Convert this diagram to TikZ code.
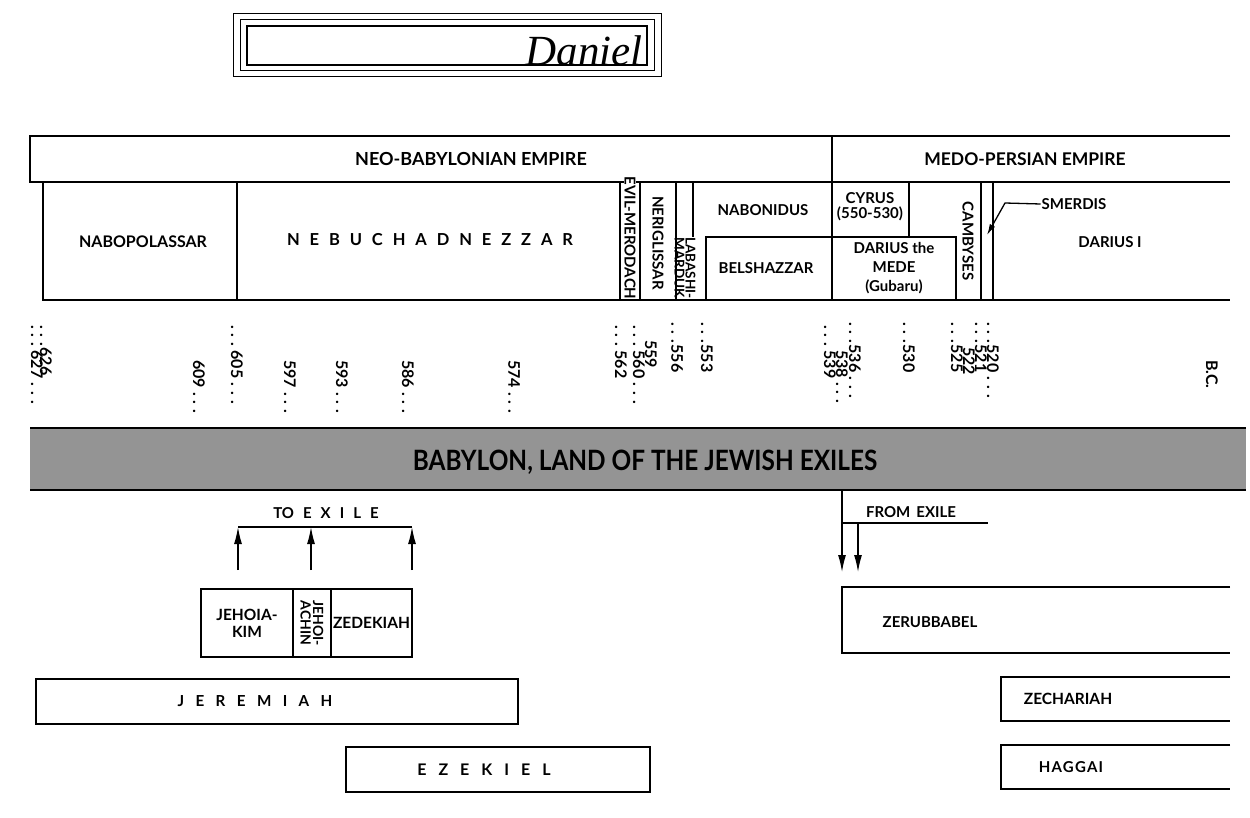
\documentclass[tikz,border=0pt]{standalone}
\usepackage{fontspec}
\newfontfamily\chartfont{Lato}
\newfontfamily\trackfont[LetterSpace=60]{Lato}
\newfontfamily\widetrack[LetterSpace=75]{Lato}
\newfontfamily\loosefont[LetterSpace=8]{Lato}
\newfontfamily\titlefont{Liberation Serif}
\usetikzlibrary{arrows.meta,positioning}

\newcommand\yd{.\hspace{5pt}.\hspace{5pt}.}

\tikzset{
  rule/.style={line width=1.3pt},
  box/.style={draw, line width=1.3pt, inner sep=0pt},
  lbl/.style={font=\chartfont\bfseries\fontsize{15}{16.5}\selectfont, inner sep=0.75pt, align=center},
  trk/.style={font=\widetrack\bfseries\fontsize{16}{18}\selectfont, inner sep=0.75pt},
  yr/.style={font=\chartfont\bfseries\fontsize{16}{16}\selectfont, rotate=-90, anchor=west, inner sep=0pt},
  exile/.style={line width=1.3pt, -{Latex[length=17pt,width=8pt]}},
}

\begin{document}
\begin{tikzpicture}[x=1pt,y=-1pt]
\useasboundingbox (0,0) rectangle (1250,818);

% title plate
\draw[line width=1pt] (233,14) rectangle (661,77);
\draw[line width=1pt] (240,20) rectangle (654,71);
\draw[line width=2pt] (247,26) rectangle (647,65);
\node[anchor=base, inner sep=0pt, font=\titlefont\itshape\fontsize{43}{43}\selectfont] (title) at (584,66) {Daniel};

% empires
\draw[rule] (1230,136) -- (30,136) -- (30,182) -- (1230,182);
\draw[line width=2.6pt] (832,136) -- (832,300);
\node[lbl, font=\chartfont\bfseries\fontsize{18}{20}\selectfont] (neo) at (471,159) {NEO-BABYLONIAN EMPIRE};
\node[lbl, font=\chartfont\bfseries\fontsize{17.5}{20}\selectfont] (medo) at (1025,159) {MEDO-PERSIAN EMPIRE};

% kings
\draw[rule] (43,182) -- (43,300) -- (1230,300);
\draw[rule] (237,182) -- (237,300);
\draw[rule] (620,182) -- (620,300);
\draw[rule] (640,182) -- (640,300);
\draw[rule] (676,182) -- (676,300);
\draw[rule] (693,182) -- (693,237);
\draw[rule] (706,300) -- (706,237) -- (956,237) -- (956,300);
\draw[rule] (909,182) -- (909,237);
\draw[rule] (981,182) -- (981,300);
\draw[rule] (993,182) -- (993,300);

\node[lbl, font=\chartfont\bfseries\fontsize{16}{17}\selectfont] (nabopolassar) at (143,242) {NABOPOLASSAR};
\node[lbl, font=\trackfont\bfseries\fontsize{16.5}{18}\selectfont] (nebuchadnezzar) at (430,240) {NEBUCHADNEZZAR};
\node[lbl, rotate=-90, fill=white, inner sep=0pt] (evilmerodach) at (630,238) {EVIL-MERODACH};
\node[lbl, rotate=-90] (neriglissar) at (658,243) {NERIGLISSAR};
\node[lbl, rotate=-90, font=\chartfont\bfseries\fontsize{13.5}{11}\selectfont] (labashi) at (685,268) {LABASHI-\\MARDUK};
\node[lbl] (nabonidus) at (763,210) {NABONIDUS};
\node[lbl] (belshazzar) at (766,268) {BELSHAZZAR};
\node[lbl, font=\chartfont\bfseries\fontsize{15}{15}\selectfont] (cyrus) at (870,207) {CYRUS\\(550-530)};
\node[lbl, font=\chartfont\bfseries\fontsize{15}{19}\selectfont] (dariusmede) at (894,268) {DARIUS the\\MEDE\\(Gubaru)};
\node[lbl, rotate=-90] (cambyses) at (968,241) {CAMBYSES};
\node[lbl] (smerdis) at (1074,204) {SMERDIS};
\node[lbl] (dariusi) at (1110,242) {DARIUS I};
\coordinate (smbend) at (1005,203);
\coordinate (smtip) at (987,235);
\draw[rule, -{Latex[length=11pt,width=6pt]}] (smerdis.west) -- (smbend) -- (smtip);

% years
\node[yr] (y627) at (37,325) {\yd\hspace{4pt}627\hspace{4pt}\yd};
\node[yr] (y626) at (46,325) {\yd\hspace{1pt}626};
\node[yr] (y609) at (199,360) {609\hspace{4pt}\yd};
\node[yr] (y605) at (237,325) {\yd\hspace{4pt}605\hspace{4pt}\yd};
\node[yr] (y597) at (290,360) {597\hspace{4pt}\yd};
\node[yr] (y593) at (342,360) {593\hspace{4pt}\yd};
\node[yr] (y586) at (408,360) {586\hspace{4pt}\yd};
\node[yr] (y574) at (514,360) {574\hspace{4pt}\yd};
\node[yr] (y562) at (621,325) {\yd\hspace{4pt}562};
\node[yr] (y560) at (639,325) {\yd\hspace{4pt}560\hspace{4pt}\yd};
\node[yr] (y559) at (651,340) {559};
\node[yr] (y556) at (677,322) {\yd\hspace{1pt}556};
\node[yr] (y553) at (707,322) {\yd\hspace{1pt}553};
\node[yr] (y539) at (830,325) {\yd\hspace{4pt}539};
\node[yr] (y538) at (842,350) {538\hspace{4pt}\yd};
\node[yr] (y536) at (855,322) {\yd\hspace{1pt}536\hspace{4pt}\yd};
\node[yr] (y530) at (909,322) {\yd\hspace{1pt}530};
\node[yr] (y525) at (957,322) {\yd\hspace{1pt}525};
\node[yr] (y522) at (969,347) {522};
\node[yr] (y521) at (981,322) {\yd\hspace{1pt}521};
\node[yr] (y520) at (993,322) {\yd\hspace{1pt}520\hspace{4pt}\yd};
\node[yr] (bc) at (1212,360) {B.C.};

% land of exile
\fill[black!42] (30,428) rectangle (1246,490);
\draw[line width=1.5pt] (30,428) -- (1246,428);
\draw[line width=1.5pt] (30,490) -- (1246,490);
\node[font=\chartfont\bfseries\fontsize{28}{30}\selectfont, inner sep=0pt] (babylon) at (645,462) {\scalebox{0.87}[1]{BABYLON, LAND OF THE JEWISH EXILES}};

% to exile
\node[lbl] (toexile) at (326,513) {TO\hspace{9pt}{\trackfont EXILE}};
\coordinate (tel) at (238,527);
\coordinate (tem) at (311,527);
\coordinate (ter) at (412,527);
\draw[rule] (tel) -- (ter);
\coordinate (jkup) at (238,570);
\coordinate (jcup) at (311,570);
\coordinate (zdup) at (412,570);
\draw[exile] (jkup) -- (tel);
\draw[exile] (jcup) -- (tem);
\draw[exile] (zdup) -- (ter);

\node[box, lbl, font=\chartfont\bfseries\fontsize{15.5}{17}\selectfont, minimum width=92pt, minimum height=68pt] (jehoiakim) at (247,623) {JEHOIA-\\KIM};
\node[box, lbl, rotate=-90, minimum width=68pt, minimum height=38pt, font=\chartfont\bfseries\fontsize{14}{12.5}\selectfont] (jehoiachin) at (312,623) {JEHOI-\\ACHIN};
\node[box, lbl, font=\chartfont\bfseries\fontsize{15.5}{17}\selectfont, minimum width=81pt, minimum height=68pt] (zedekiah) at (371.5,623) {ZEDEKIAH};

% from exile
\coordinate (fetop) at (842,490);
\coordinate (fel) at (842,523);
\coordinate (fem) at (858,523);
\coordinate (fer) at (988,523);
\coordinate (zbl) at (842,572);
\coordinate (zbm) at (858,572);
\draw[rule] (fetop) -- (fel) -- (fer);
\draw[exile] (fel) -- (zbl);
\draw[exile] (fem) -- (zbm);
\node[lbl] (fromexile) at (911,512) {FROM\hspace{6pt}EXILE};

\draw[rule] (1230,587) -- (842,587) -- (842,653) -- (1230,653);
\node[lbl] (zerubbabel) at (930,622) {ZERUBBABEL};

% prophets
\node[box, minimum width=482pt, minimum height=45pt] (jeremiah) at (277,701.5) {};
\node[trk, font=\widetrack\bfseries\fontsize{15.2}{18}\selectfont] (jerlbl) at (255,701.5) {JEREMIAH};
\node[box, minimum width=304pt, minimum height=45pt] (ezekiel) at (498,769.5) {};
\node[trk] (ezelbl) at (484,769.5) {EZEKIEL};

\draw[rule] (1230,677) -- (1001,677) -- (1001,721) -- (1230,721);
\node[lbl, font=\chartfont\bfseries\fontsize{15.5}{17}\selectfont] (zechariah) at (1068,699) {ZECHARIAH};
\draw[rule] (1230,745) -- (1001,745) -- (1001,789) -- (1230,789);
\node[lbl, font=\loosefont\bfseries\fontsize{15}{17}\selectfont] (haggai) at (1071,767) {HAGGAI};
\end{tikzpicture}
\end{document}
